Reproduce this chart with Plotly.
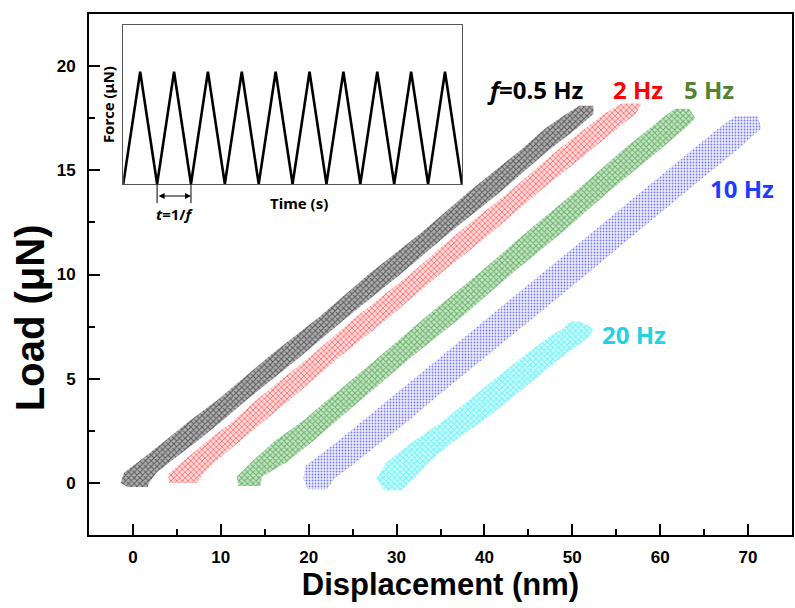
import plotly.graph_objects as go

# ---------------- data ----------------
# Each frequency: the scattered cloud of (displacement, load) points, given as
# its left / right displacement edge (nm) at a set of load levels (uN).
load_05 = [-0.2, 0.0, 0.5, 1, 2, 3, 4, 6, 8, 10, 12, 14, 16, 17, 17.7, 18.1]
left_05 = [-0.6, -1.4, -1.0, 0.6, 3.6, 6.5, 9.7, 15.3, 21.3, 26.8, 32.8, 38.3, 44.2, 46.9, 49.3, 50.8]
right_05 = [1.7, 1.8, 2.7, 4.2, 7.3, 10.2, 13.0, 18.9, 24.5, 30.4, 36.0, 41.9, 47.4, 50.5, 52.4, 52.4]

load_2 = [0.0, 0.4, 1, 2, 3, 4, 6, 8, 10, 12, 14, 16, 17, 17.7, 18.2]
left_2 = [4.1, 4.0, 5.6, 8.4, 11.5, 14.1, 20.0, 25.5, 31.5, 37.0, 42.9, 48.4, 51.5, 53.6, 55.6]
right_2 = [7.3, 7.9, 9.3, 12.2, 15.0, 17.9, 23.4, 29.3, 34.9, 40.8, 46.3, 52.2, 55.1, 57.2, 57.9]

load_5 = [-0.15, 0.3, 1, 2, 3, 4, 6, 8, 10, 12, 14, 16, 17, 17.5, 17.95]
left_5 = [12.0, 11.8, 13.5, 16.1, 19.4, 22.2, 27.9, 33.4, 39.2, 44.7, 50.4, 55.8, 58.8, 60.2, 61.7]
right_5 = [14.5, 14.7, 17.5, 20.5, 23.2, 26.0, 31.6, 37.5, 43.0, 48.8, 54.2, 60.0, 62.8, 64.0, 63.3]

load_10 = [-0.3, 0.2, 0.8, 2, 3, 4, 6, 8, 10, 12, 14, 16, 17, 17.6]
left_10 = [19.9, 19.4, 19.6, 23.3, 26.2, 29.1, 34.9, 40.6, 46.4, 52.2, 57.9, 63.7, 66.6, 68.6]
right_10 = [22.1, 22.9, 24.8, 28.4, 31.4, 34.2, 40.0, 45.8, 51.6, 57.3, 63.0, 68.8, 71.5, 71.1]

load_20 = [-0.35, 0.2, 1, 2, 3, 4, 5, 6, 7, 7.4, 7.75]
left_20 = [28.6, 27.7, 28.9, 31.9, 35.4, 38.3, 41.2, 44.2, 47.3, 48.9, 49.7]
right_20 = [30.6, 31.9, 33.7, 36.5, 39.9, 42.9, 45.8, 48.7, 51.9, 52.4, 51.0]

# inset: triangular force waveform (10 cycles)
inset_time = [0, 0.5, 1, 1.5, 2, 2.5, 3, 3.5, 4, 4.5, 5, 5.5, 6, 6.5, 7, 7.5, 8, 8.5, 9, 9.5, 10]
inset_force = [0, 1, 0, 1, 0, 1, 0, 1, 0, 1, 0, 1, 0, 1, 0, 1, 0, 1, 0, 1, 0]
period_marks = [1, 2]

series = [
    ("f=0.5 Hz", load_05, left_05, right_05, "0,0,0", "x", 4, 0.45, 0.30),
    ("2 Hz", load_2, left_2, right_2, "255,0,0", "x", 4, 0.38, 0.15),
    ("5 Hz", load_5, left_5, right_5, "0,128,0", "x", 4, 0.42, 0.22),
    ("10 Hz", load_10, left_10, right_10, "0,0,255", ".", 3, 0.30, 0.06),
    ("20 Hz", load_20, left_20, right_20, "0,235,245", "x", 4, 0.42, 0.18),
]

fig = go.Figure()
for name, ld, lf, rt, col, shp, sz, sol, alpha in series:
    fig.add_trace(go.Scatter(
        x=lf + rt[::-1], y=ld + ld[::-1],
        mode="none", fill="toself", name=name,
        fillcolor=f"rgba({col},{alpha})",
        fillpattern=dict(shape=shp, fgcolor=f"rgb({col})", fillmode="overlay",
                         size=sz, solidity=sol),
        showlegend=False, hoverinfo="skip",
    ))

fig.add_trace(go.Scatter(
    x=inset_time, y=inset_force, xaxis="x2", yaxis="y2",
    mode="lines", line=dict(color="black", width=2.6), showlegend=False,
))

tickfont = dict(family="Liberation Sans, Arial, sans-serif", size=17, color="black", weight="bold")
xfont = dict(family="Liberation Sans, Arial, sans-serif", size=31, color="black", weight="bold")
yfont = dict(family="Liberation Sans, Arial, sans-serif", size=40, color="black", weight="bold")

fig.update_layout(
    width=795, height=608,
    margin=dict(l=89, r=1, t=14, b=73),
    paper_bgcolor="white", plot_bgcolor="white",
    xaxis=dict(range=[-5, 75], dtick=10, tick0=0, showline=True, linewidth=2, linecolor="black",
               mirror=True, ticks="inside", ticklen=11, tickwidth=1.6, tickcolor="black",
               minor=dict(ticks="inside", ticklen=6, dtick=5, tickwidth=1.6, tickcolor="black"),
               showgrid=False, zeroline=False, tickfont=tickfont, ticklabelstandoff=6,
               title=dict(text="Displacement (nm)", font=xfont, standoff=6)),
    yaxis=dict(range=[-2.5, 22.5], dtick=5, tick0=0, showline=True, linewidth=2, linecolor="black",
               mirror=True, ticks="inside", ticklen=11, tickwidth=1.6, tickcolor="black",
               minor=dict(ticks="inside", ticklen=6, dtick=2.5, tickwidth=1.6, tickcolor="black"),
               showgrid=False, zeroline=False, tickfont=tickfont, ticklabelstandoff=8),
    xaxis2=dict(domain=[0.0487, 0.5305], anchor="y2", range=[0, 10], showline=True, mirror=True,
                linecolor="#555555", linewidth=1.3, showticklabels=False, ticks="",
                showgrid=False, zeroline=False),
    yaxis2=dict(domain=[0.6737, 0.979], anchor="x2", range=[0, 1.417], showline=True, mirror=True,
                linecolor="#555555", linewidth=1.3, showticklabels=False, ticks="",
                showgrid=False, zeroline=False),
)

# y-axis title (placed like the original, a little below the axis centre)
fig.add_annotation(text="Load (μN)", x=-0.0837, y=0.4165, xref="paper", yref="paper",
                   showarrow=False, textangle=-90, xanchor="center", yanchor="middle",
                   font=yfont)

lab = "Noto Sans, Open Sans, sans-serif"
labels = [
    ("<b><i>f</i>=0.5 Hz</b>", 45.8, 18.9, "#000000"),
    ("<b>2 Hz</b>", 57.5, 18.9, "#FF0000"),
    ("<b>5 Hz</b>", 65.5, 18.9, "#548235"),
    ("<b>10 Hz</b>", 69.3, 14.15, "#1F3BFF"),
    ("<b>20 Hz</b>", 57.0, 7.1, "#1FD3E0"),
]
for t, x, y, c in labels:
    fig.add_annotation(text=t, x=x, y=y, xref="x", yref="y", showarrow=False,
                       xanchor="center", yanchor="middle",
                       font=dict(family=lab, size=24, color=c))

# inset texts
fig.add_annotation(text="<b>Force (μN)</b>", x=0.027, y=0.827, xref="paper", yref="paper",
                   showarrow=False, textangle=-90, xanchor="center", yanchor="middle",
                   font=dict(family=lab, size=15, color="black"))
fig.add_annotation(text="<b>Time (s)</b>", x=0.2993, y=0.637, xref="paper", yref="paper",
                   showarrow=False, xanchor="center", yanchor="middle",
                   font=dict(family=lab, size=15, color="black"))
fig.add_annotation(text="<b><i>t</i>=1/<i>f</i></b>", x=0.122, y=0.6165, xref="paper", yref="paper",
                   showarrow=False, xanchor="center", yanchor="middle",
                   font=dict(family=lab, size=15, color="black"))
# period arrow
fig.add_annotation(text="", x=period_marks[1], y=0.6507, xref="x2", yref="paper",
                   ax=period_marks[0], ay=0, axref="x2", ayref="pixel",
                   showarrow=True, arrowside="end+start", arrowhead=2, startarrowhead=2,
                   arrowsize=1, startarrowsize=1, arrowwidth=1.2, arrowcolor="black")
for pm in period_marks:
    fig.add_shape(type="line", x0=pm, x1=pm, y0=0.6737, y1=0.637, xref="x2", yref="paper",
                  line=dict(color="black", width=1))

fig.write_html("out.html")
